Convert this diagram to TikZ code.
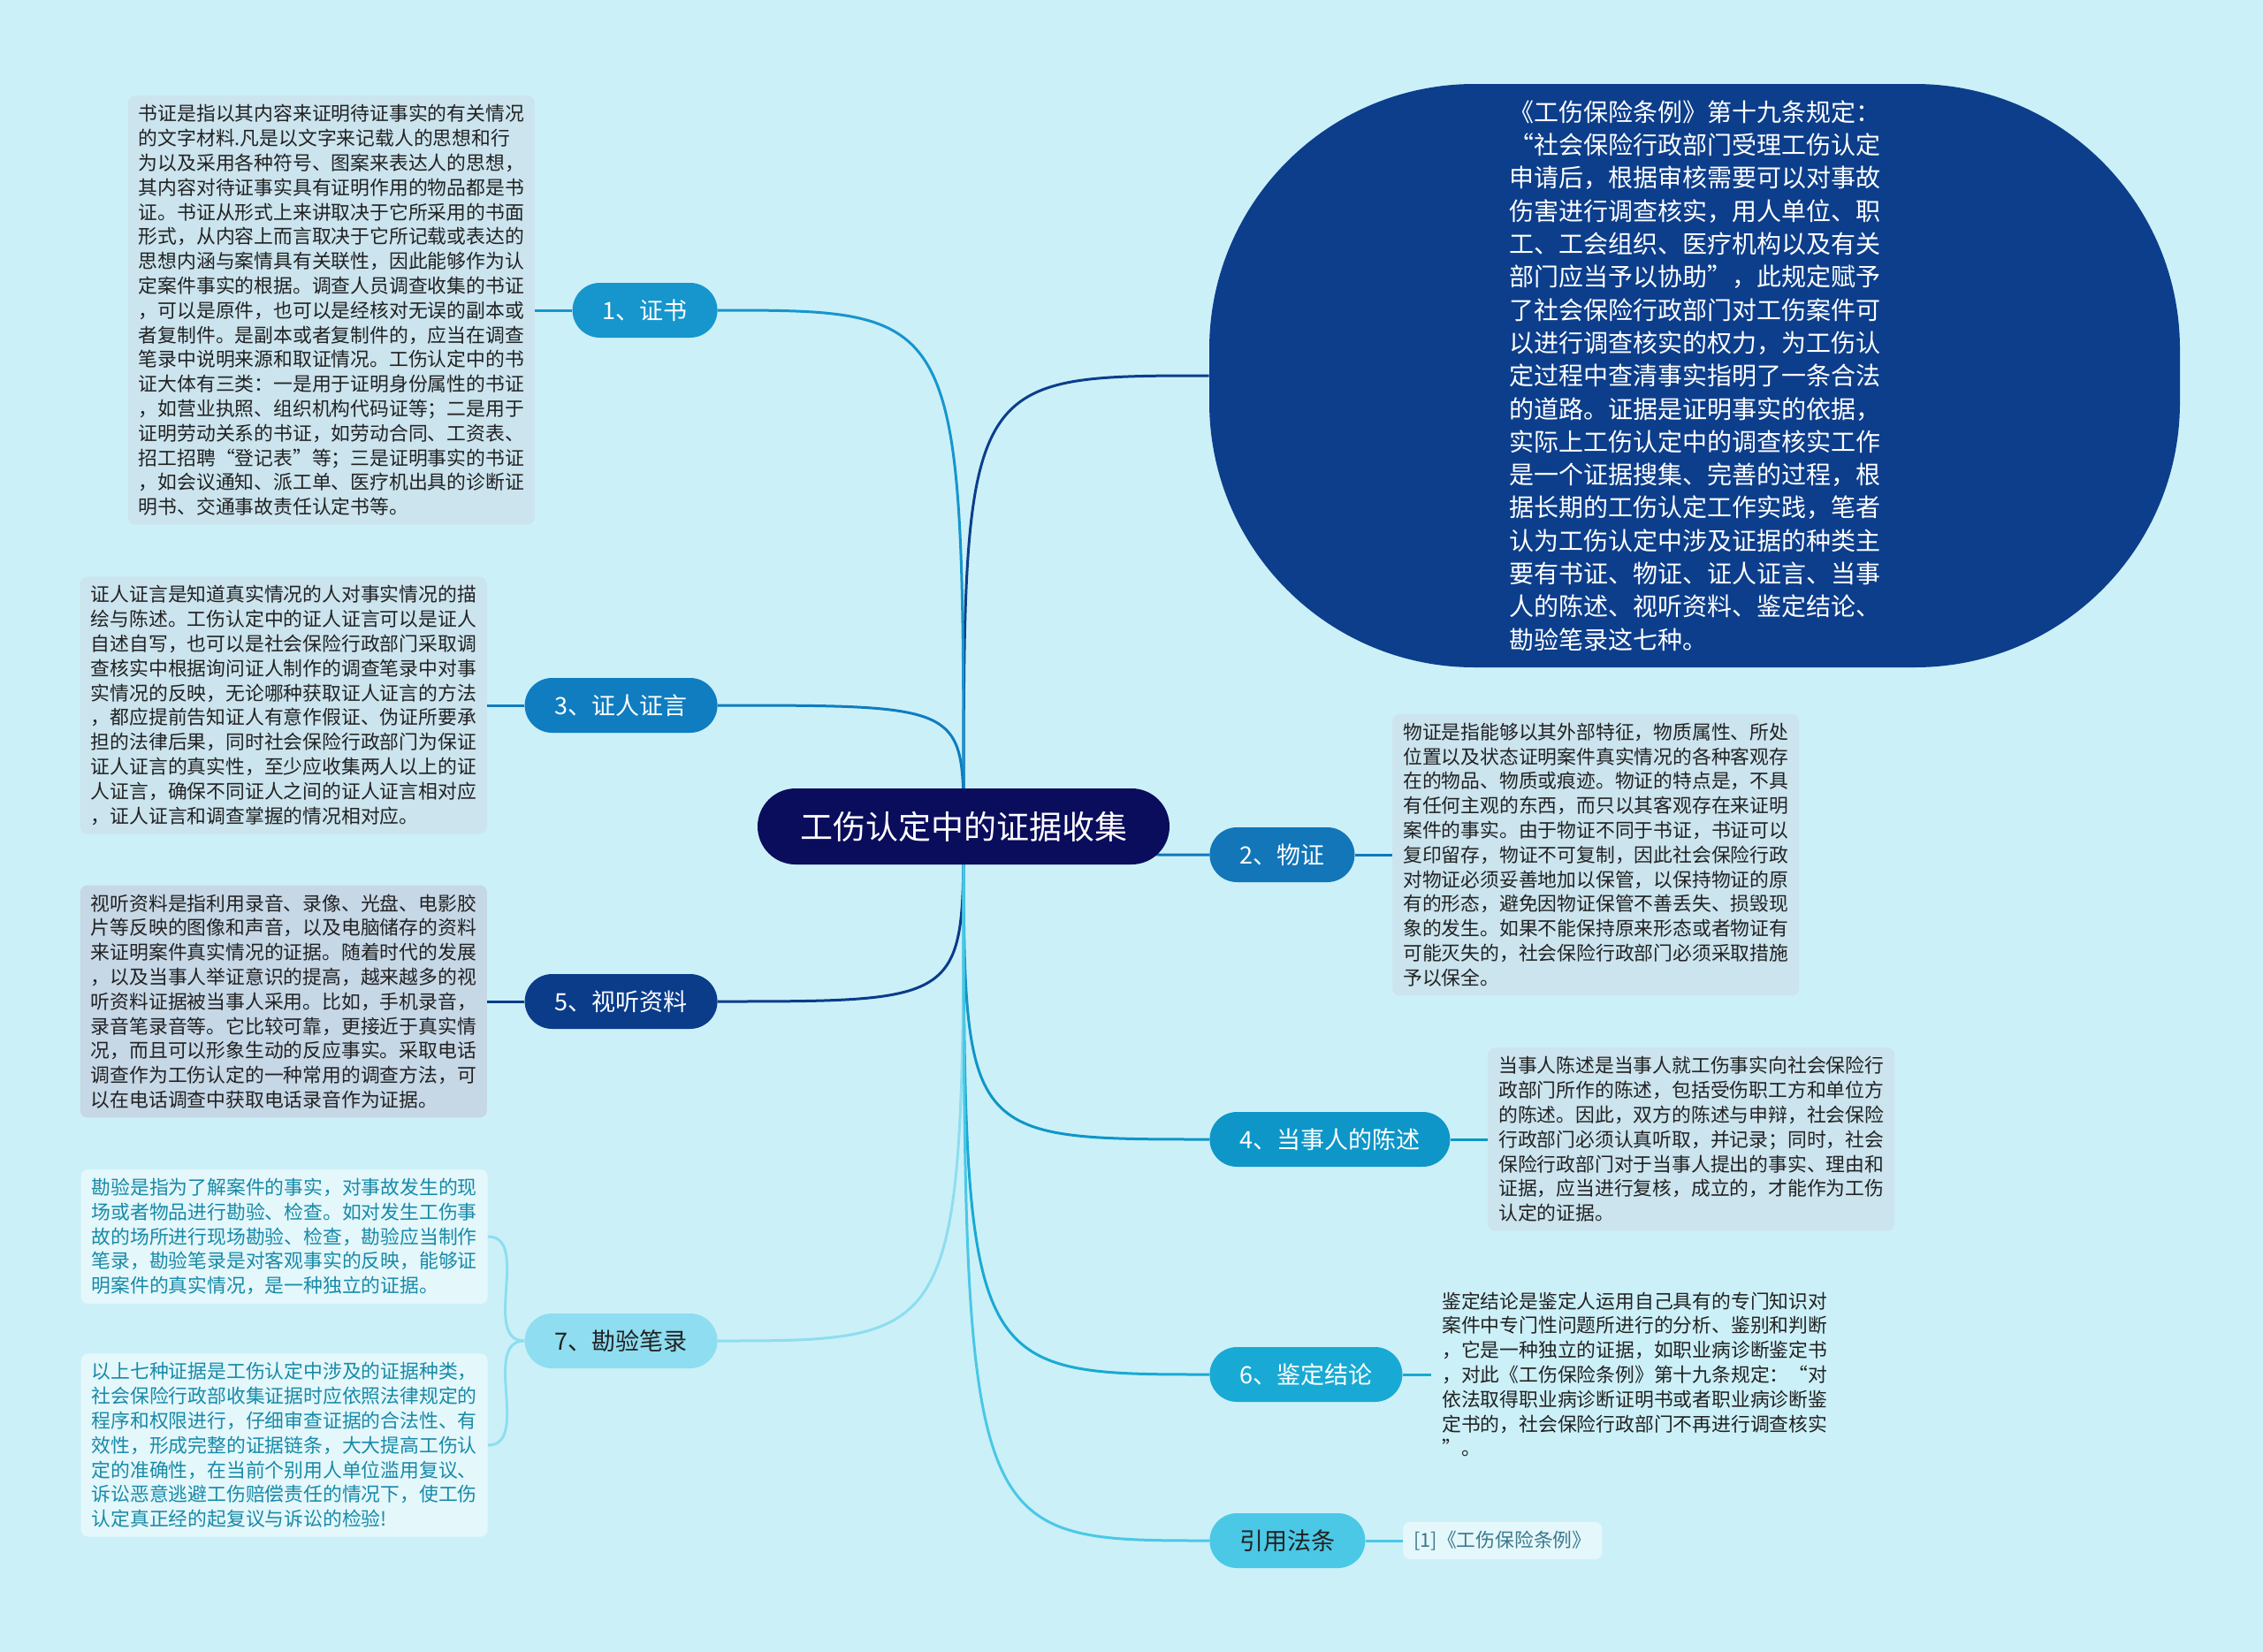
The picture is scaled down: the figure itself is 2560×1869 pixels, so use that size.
\documentclass[tikz,border=0pt]{standalone}
\usepackage{fontspec}
\setmainfont{Noto Sans CJK SC}
\usepackage{tikz}
\usepackage{xcolor}
\usetikzlibrary{positioning,backgrounds}
\definecolor{skyback}{RGB}{204,240,248}
\definecolor{hubnavy}{RGB}{10,12,92}
\definecolor{ovalblue}{RGB}{12,62,140}
\definecolor{brone}{RGB}{22,150,205}
\definecolor{brtwo}{RGB}{18,118,185}
\definecolor{brthree}{RGB}{15,125,192}
\definecolor{brfour}{RGB}{14,150,200}
\definecolor{brfive}{RGB}{10,60,138}
\definecolor{brsix}{RGB}{24,170,212}
\definecolor{brseven}{RGB}{142,221,240}
\definecolor{brref}{RGB}{74,200,230}
\definecolor{leafgray}{RGB}{34,34,34}
\definecolor{leafteal}{RGB}{24,138,168}
\definecolor{reftext}{RGB}{60,120,140}
\definecolor{boxblue}{RGB}{203,228,238}
\definecolor{boxgray}{RGB}{198,215,230}
\definecolor{boxpale}{RGB}{228,247,251}

\begin{document}
\begin{tikzpicture}[x=0.5pt,y=-0.5pt,
  every node/.style={font=\fontsize{10.9}{13.9}\selectfont},
  hub/.style={fill=hubnavy,text=white,rounded corners=21.5pt,minimum height=43pt,inner xsep=24pt,font=\fontsize{18.5}{22}\selectfont},
  oval/.style={fill=ovalblue,text=white,rounded corners=150pt,minimum width=549pt,minimum height=330pt,align=left,font=\fontsize{14}{18.65}\selectfont},
  branch/.style={rounded corners=15.5pt,minimum height=31pt,inner xsep=17pt,inner ysep=0pt,text=white,font=\fontsize{13.5}{16}\selectfont},
  leaf/.style={rounded corners=4pt,align=left,inner xsep=6pt,inner ysep=5pt,text=leafgray},
  link/.style={line width=1.5pt},
  node distance=21pt]
\useasboundingbox (0,0) rectangle (2560,1869);

\node[hub] (hub) at (1090,935) {工伤认定中的证据收集};
\node[oval] (gz) at (1917,425) {《工伤保险条例》第十九条规定：\\
“社会保险行政部门受理工伤认定\\
申请后，根据审核需要可以对事故\\
伤害进行调查核实，用人单位、职\\
工、工会组织、医疗机构以及有关\\
部门应当予以协助”，此规定赋予\\
了社会保险行政部门对工伤案件可\\
以进行调查核实的权力，为工伤认\\
定过程中查清事实指明了一条合法\\
的道路。证据是证明事实的依据，\\
实际上工伤认定中的调查核实工作\\
是一个证据搜集、完善的过程，根\\
据长期的工伤认定工作实践，笔者\\
认为工伤认定中涉及证据的种类主\\
要有书证、物证、证人证言、当事\\
人的陈述、视听资料、鉴定结论、\\
勘验笔录这七种。};

\node[branch,fill=brone,anchor=east] (zs) at (812,351) {1、证书};
\node[branch,fill=brthree,anchor=east] (zr) at (812,798) {3、证人证言};
\node[branch,fill=brfive,anchor=east] (st) at (812,1133) {5、视听资料};
\node[branch,fill=brseven,text=leafgray,anchor=east] (ky) at (812,1517) {7、勘验笔录};
\node[branch,fill=brtwo,anchor=west] (wz) at (1368,967) {2、物证};
\node[branch,fill=brfour,anchor=west] (ds) at (1368,1289) {4、当事人的陈述};
\node[branch,fill=brsix,anchor=west] (jd) at (1368,1555) {6、鉴定结论};
\node[branch,fill=brref,text=leafgray,anchor=west] (yf) at (1368,1743) {引用法条};

\node[leaf,fill=boxblue,left=of zs] (zsText) {书证是指以其内容来证明待证事实的有关情况\\
的文字材料.凡是以文字来记载人的思想和行\\
为以及采用各种符号、图案来表达人的思想，\\
其内容对待证事实具有证明作用的物品都是书\\
证。书证从形式上来讲取决于它所采用的书面\\
形式，从内容上而言取决于它所记载或表达的\\
思想内涵与案情具有关联性，因此能够作为认\\
定案件事实的根据。调查人员调查收集的书证\\
，可以是原件，也可以是经核对无误的副本或\\
者复制件。是副本或者复制件的，应当在调查\\
笔录中说明来源和取证情况。工伤认定中的书\\
证大体有三类：一是用于证明身份属性的书证\\
，如营业执照、组织机构代码证等；二是用于\\
证明劳动关系的书证，如劳动合同、工资表、\\
招工招聘“登记表”等；三是证明事实的书证\\
，如会议通知、派工单、医疗机出具的诊断证\\
明书、交通事故责任认定书等。};
\node[leaf,fill=boxblue,left=of zr] (zrText) {证人证言是知道真实情况的人对事实情况的描\\
绘与陈述。工伤认定中的证人证言可以是证人\\
自述自写，也可以是社会保险行政部门采取调\\
查核实中根据询问证人制作的调查笔录中对事\\
实情况的反映，无论哪种获取证人证言的方法\\
，都应提前告知证人有意作假证、伪证所要承\\
担的法律后果，同时社会保险行政部门为保证\\
证人证言的真实性，至少应收集两人以上的证\\
人证言，确保不同证人之间的证人证言相对应\\
，证人证言和调查掌握的情况相对应。};
\node[leaf,fill=boxgray,left=of st] (stText) {视听资料是指利用录音、录像、光盘、电影胶\\
片等反映的图像和声音，以及电脑储存的资料\\
来证明案件真实情况的证据。随着时代的发展\\
，以及当事人举证意识的提高，越来越多的视\\
听资料证据被当事人采用。比如，手机录音，\\
录音笔录音等。它比较可靠，更接近于真实情\\
况，而且可以形象生动的反应事实。采取电话\\
调查作为工伤认定的一种常用的调查方法，可\\
以在电话调查中获取电话录音作为证据。};
\node[leaf,fill=boxpale,text=leafteal,anchor=east] (kyTextA) at (552,1399) {勘验是指为了解案件的事实，对事故发生的现\\
场或者物品进行勘验、检查。如对发生工伤事\\
故的场所进行现场勘验、检查，勘验应当制作\\
笔录，勘验笔录是对客观事实的反映，能够证\\
明案件的真实情况，是一种独立的证据。};
\node[leaf,fill=boxpale,text=leafteal,anchor=east] (kyTextB) at (552,1635) {以上七种证据是工伤认定中涉及的证据种类，\\
社会保险行政部收集证据时应依照法律规定的\\
程序和权限进行，仔细审查证据的合法性、有\\
效性，形成完整的证据链条，大大提高工伤认\\
定的准确性，在当前个别用人单位滥用复议、\\
诉讼恶意逃避工伤赔偿责任的情况下，使工伤\\
认定真正经的起复议与诉讼的检验!};
\node[leaf,fill=boxblue,right=of wz] (wzText) {物证是指能够以其外部特征，物质属性、所处\\
位置以及状态证明案件真实情况的各种客观存\\
在的物品、物质或痕迹。物证的特点是，不具\\
有任何主观的东西，而只以其客观存在来证明\\
案件的事实。由于物证不同于书证，书证可以\\
复印留存，物证不可复制，因此社会保险行政\\
对物证必须妥善地加以保管，以保持物证的原\\
有的形态，避免因物证保管不善丢失、损毁现\\
象的发生。如果不能保持原来形态或者物证有\\
可能灭失的，社会保险行政部门必须采取措施\\
予以保全。};
\node[leaf,fill=boxblue,right=of ds] (dsText) {当事人陈述是当事人就工伤事实向社会保险行\\
政部门所作的陈述，包括受伤职工方和单位方\\
的陈述。因此，双方的陈述与申辩，社会保险\\
行政部门必须认真听取，并记录；同时，社会\\
保险行政部门对于当事人提出的事实、理由和\\
证据，应当进行复核，成立的，才能作为工伤\\
认定的证据。};
\node[leaf,right=16pt of jd] (jdText) {鉴定结论是鉴定人运用自己具有的专门知识对\\
案件中专门性问题所进行的分析、鉴别和判断\\
，它是一种独立的证据，如职业病诊断鉴定书\\
，对此《工伤保险条例》第十九条规定：“对\\
依法取得职业病诊断证明书或者职业病诊断鉴\\
定书的，社会保险行政部门不再进行调查核实\\
”。};
\node[leaf,fill=boxpale,text=reftext,right=of yf] (yfText) {[1]《工伤保险条例》};

\begin{scope}[on background layer]
\fill[skyback] (0,0) rectangle (2560,1869);
\draw[link,ovalblue] (hub.center) .. controls (hub.center |- gz.west) .. (gz.west);
\draw[link,brone] (hub.center) .. controls (hub.center |- zs.east) .. (zs.east);
\draw[link,brthree] (hub.center) .. controls (hub.center |- zr.east) .. (zr.east);
\draw[link,brfive] (hub.center) .. controls (hub.center |- st.east) .. (st.east);
\draw[link,brseven] (hub.center) .. controls (hub.center |- ky.east) .. (ky.east);
\draw[link,brtwo] (hub.center) .. controls (hub.center |- wz.west) .. (wz.west);
\draw[link,brfour] (hub.center) .. controls (hub.center |- ds.west) .. (ds.west);
\draw[link,brsix] (hub.center) .. controls (hub.center |- jd.west) .. (jd.west);
\draw[link,brref] (hub.center) .. controls (hub.center |- yf.west) .. (yf.west);
\draw[link,brone] (zs.west) -- (zsText.east);
\draw[link,brthree] (zr.west) -- (zrText.east);
\draw[link,brfive] (st.west) -- (stText.east);
\draw[link,brseven] (ky.west) to[out=180,in=0] (kyTextA.east);
\draw[link,brseven] (ky.west) to[out=180,in=0] (kyTextB.east);
\draw[link,brtwo] (wz.east) -- (wzText.west);
\draw[link,brfour] (ds.east) -- (dsText.west);
\draw[link,brsix] (jd.east) -- (jdText.west);
\draw[link,brref] (yf.east) -- (yfText.west);
\end{scope}
\end{tikzpicture}
\end{document}
